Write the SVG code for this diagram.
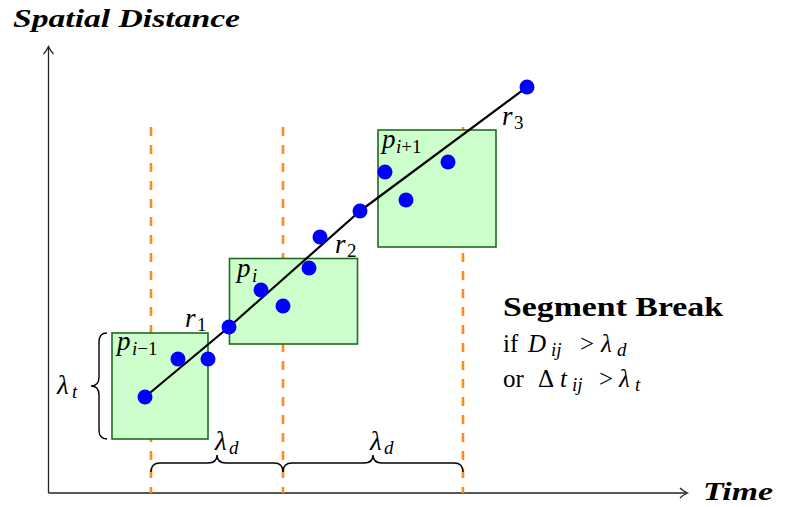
<svg xmlns="http://www.w3.org/2000/svg" width="785" height="507" viewBox="0 0 785 507">
<defs>
<style>
.ax{stroke:#222;stroke-width:1.3;fill:none}
.dash{stroke:#ff8c1a;stroke-width:2.6;stroke-dasharray:9 9;fill:none}
.box{fill:#ccffcc;stroke:#1f6b1f;stroke-width:1.6}
.pt{fill:#0000ff}
.traj{stroke:#000;stroke-width:2.2;fill:none;stroke-linejoin:round}
.brace{stroke:#000;stroke-width:1.4;fill:none}
</style>
</defs>
<rect width="785" height="507" fill="#fff"/>
<g id="axes">
<path class="ax" d="M48.5,493 L48.5,47"/>
<path class="ax" d="M43.5,54 Q46.5,51 48.5,46.5 Q50.5,51 53.5,54"/>
<path class="ax" d="M48.5,493 L687,493"/>
<path class="ax" d="M680,488 Q683,491 687.5,493 Q683,495 680,498"/>
<text font-family="Liberation Serif" font-style="italic" font-weight="bold" font-size="26" x="13" y="27" textLength="227" lengthAdjust="spacingAndGlyphs">Spatial Distance</text>
<text font-family="Liberation Serif" font-style="italic" font-weight="bold" font-size="26" x="703" y="500" textLength="70" lengthAdjust="spacingAndGlyphs">Time</text>
</g>
<g id="dashes">
<path class="dash" d="M151,127 L151,493"/>
<path class="dash" d="M283,127 L283,493"/>
<path class="dash" d="M463,127 L463,493"/>
</g>
<g id="box1"><rect class="box" x="112" y="333" width="96" height="106"/>
<text font-family="Liberation Serif" font-style="italic" font-size="27" x="117" y="350">p</text><text font-family="Liberation Serif" font-size="19" x="132" y="355"><tspan font-style="italic">i</tspan>−1</text></g>
<g id="box2"><rect class="box" x="229.5" y="258.5" width="128" height="85.5"/>
<text font-family="Liberation Serif" font-style="italic" font-size="27" x="237" y="277">p</text><text font-family="Liberation Serif" font-style="italic" font-size="19" x="252" y="282">i</text></g>
<g id="box3"><rect class="box" x="378" y="130" width="118" height="117"/>
<text font-family="Liberation Serif" font-style="italic" font-size="27" x="382" y="148">p</text><text font-family="Liberation Serif" font-size="19" x="396" y="153"><tspan font-style="italic">i</tspan>+1</text></g>
<g id="connectors">
<polyline class="traj" points="145,397 229,327 360,211 527,87"/>
</g>
<g id="points">
<circle class="pt" cx="145" cy="397" r="7.5"/>
<circle class="pt" cx="178" cy="359" r="7.5"/>
<circle class="pt" cx="208" cy="359" r="7.5"/>
<circle class="pt" cx="229" cy="327" r="7.5"/>
<circle class="pt" cx="261" cy="290" r="7.5"/>
<circle class="pt" cx="283" cy="306" r="7.5"/>
<circle class="pt" cx="309" cy="268" r="7.5"/>
<circle class="pt" cx="320" cy="237" r="7.5"/>
<circle class="pt" cx="360" cy="211" r="7.5"/>
<circle class="pt" cx="385" cy="172" r="7.5"/>
<circle class="pt" cx="406" cy="200" r="7.5"/>
<circle class="pt" cx="448" cy="162" r="7.5"/>
<circle class="pt" cx="527" cy="87" r="7.5"/>
</g>
<g id="rlabels">
<text font-family="Liberation Serif" font-style="italic" font-size="27" x="185" y="327">r</text><text font-family="Liberation Serif" font-size="19" x="197" y="331">1</text>
<text font-family="Liberation Serif" font-style="italic" font-size="27" x="335" y="253">r</text><text font-family="Liberation Serif" font-size="19" x="347" y="257">2</text>
<text font-family="Liberation Serif" font-style="italic" font-size="27" x="502" y="125">r</text><text font-family="Liberation Serif" font-size="19" x="514" y="129">3</text>
</g>
<g id="braces">
<path class="brace" d="M107,333 Q99,333 99,342 L99,377 Q99,386 91,386 Q99,386 99,395 L99,430 Q99,439 107,439"/>
<text font-family="Liberation Serif" font-style="italic" font-size="27" x="57" y="394">λ</text><text font-family="Liberation Serif" font-style="italic" font-size="19" x="72" y="398">t</text>
<path class="brace" d="M151,472 Q151,463 160,463 L208,463 Q217,463 217,455 Q217,463 226,463 L274,463 Q283,463 283,472"/>
<path class="brace" d="M283,472 Q283,463 292,463 L364,463 Q373,463 373,455 Q373,463 382,463 L454,463 Q463,463 463,472"/>
<text font-family="Liberation Serif" font-style="italic" font-size="27" x="215" y="450">λ</text><text font-family="Liberation Serif" font-style="italic" font-size="19" x="229" y="454">d</text>
<text font-family="Liberation Serif" font-style="italic" font-size="27" x="370" y="450">λ</text><text font-family="Liberation Serif" font-style="italic" font-size="19" x="384" y="454">d</text>
</g>
<g id="rule">
<text font-family="Liberation Serif" font-size="27" font-weight="bold" x="503" y="316" textLength="220" lengthAdjust="spacingAndGlyphs">Segment Break</text>
<text font-family="Liberation Serif" font-size="25" x="503" y="352">if</text>
<text font-family="Liberation Serif" font-style="italic" font-size="25" x="528" y="352">D</text><text font-family="Liberation Serif" font-style="italic" font-size="19" x="551" y="356">ij</text>
<text font-family="Liberation Serif" font-size="25" x="580" y="352">&gt;</text>
<text font-family="Liberation Serif" font-style="italic" font-size="25" x="601" y="352">λ</text><text font-family="Liberation Serif" font-style="italic" font-size="19" x="617" y="356">d</text>
<text font-family="Liberation Serif" font-size="25" x="503" y="387">or</text>
<text font-family="Liberation Serif" font-size="25" x="538" y="387">Δ</text><text font-family="Liberation Serif" font-style="italic" font-size="25" x="560" y="387">t</text><text font-family="Liberation Serif" font-style="italic" font-size="19" x="572" y="391">ij</text>
<text font-family="Liberation Serif" font-size="25" x="599" y="387">&gt;</text>
<text font-family="Liberation Serif" font-style="italic" font-size="25" x="619" y="387">λ</text><text font-family="Liberation Serif" font-style="italic" font-size="19" x="635" y="391">t</text>
</g>
</svg>
